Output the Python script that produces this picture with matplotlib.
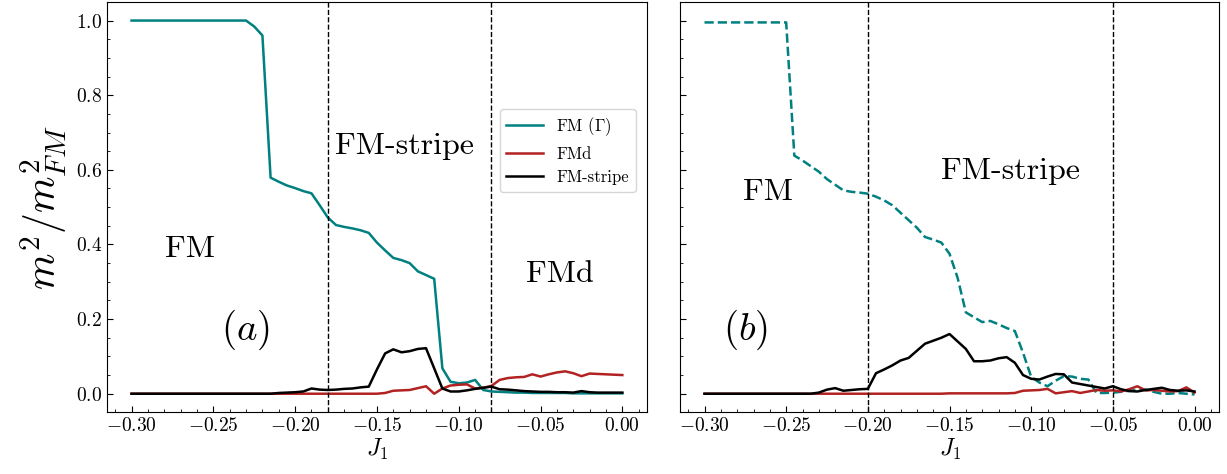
import matplotlib.pyplot as plt
import numpy as np

plt.rcParams["font.family"] = "serif"
plt.rcParams["font.serif"] = ["cmr10"]
plt.rcParams["mathtext.fontset"] = "cm"
plt.rcParams["axes.formatter.use_mathtext"] = True

# J1 grid (step 0.005)
J1 = np.round(np.arange(-0.30, 0.0001, 0.005), 3)

# Panel (a)
fm_a = [1.0] * 15 + [
    0.984, 0.96, 0.579, 0.568, 0.558, 0.551, 0.543, 0.537, 0.505, 0.472,
    0.452, 0.447, 0.443, 0.438, 0.431, 0.405, 0.384, 0.364, 0.358, 0.350,
    0.328, 0.318, 0.308, 0.068, 0.032, 0.028, 0.030, 0.037, 0.010, 0.006,
    0.005, 0.004, 0.003, 0.003, 0.002, 0.002, 0.002, 0.002, 0.002, 0.001,
    0.001, 0.001, 0.001, 0.001, 0.001, 0.001,
]
fmd_a = [0.0] * 31 + [
    0.002, 0.008, 0.009, 0.010, 0.015, 0.020, 0.000, 0.014, 0.022, 0.024,
    0.025, 0.014, 0.016, 0.021, 0.037, 0.042, 0.044, 0.045, 0.052, 0.046,
    0.052, 0.057, 0.060, 0.055, 0.047, 0.054, 0.053, 0.052, 0.051, 0.050,
]
stripe_a = [0.0] * 18 + [
    0.002, 0.003, 0.004, 0.006, 0.014, 0.011, 0.010, 0.011, 0.013, 0.014,
    0.017, 0.019, 0.065, 0.108, 0.119, 0.111, 0.114, 0.120, 0.122, 0.068,
    0.014, 0.006, 0.006, 0.009, 0.013, 0.016, 0.019, 0.012, 0.011, 0.009,
    0.007, 0.006, 0.005, 0.005, 0.004, 0.004, 0.003, 0.007, 0.004, 0.003,
    0.003, 0.003, 0.003,
]

# Panel (b)
fm_b = [0.995] * 11 + [
    0.638, 0.625, 0.610, 0.595, 0.575, 0.560, 0.545, 0.541, 0.539, 0.536,
    0.528, 0.518, 0.505, 0.485, 0.465, 0.445, 0.420, 0.413, 0.405, 0.375,
    0.310, 0.218, 0.205, 0.192, 0.195, 0.186, 0.176, 0.168, 0.110, 0.045,
    0.030, 0.020, 0.035, 0.047, 0.046, 0.040, 0.038, 0.002, 0.002, 0.003,
    0.005, 0.008, 0.010, 0.011, 0.005, 0.000, 0.000, 0.002, 0.000, -0.002,
]
fmd_b = [0.0] * 30 + [
    0.001, 0.001, 0.001, 0.001, 0.001, 0.001, 0.001, 0.001, 0.002, 0.008,
    0.009, 0.010, 0.013, 0.001, 0.004, 0.007, 0.002, 0.006, 0.010, 0.008,
    0.009, 0.006, 0.012, 0.020, 0.009, 0.010, 0.008, 0.006, 0.007, 0.017,
    0.003,
]
stripe_b = [0.0] * 14 + [
    0.003, 0.011, 0.015, 0.008, 0.010, 0.012, 0.013, 0.055, 0.065, 0.076,
    0.089, 0.096, 0.115, 0.134, 0.142, 0.150, 0.160, 0.140, 0.120, 0.087,
    0.087, 0.089, 0.095, 0.098, 0.083, 0.050, 0.040, 0.038, 0.046, 0.053,
    0.052, 0.030, 0.026, 0.022, 0.018, 0.014, 0.020, 0.012, 0.007, 0.006,
    0.010, 0.013, 0.016, 0.010, 0.008, 0.009, 0.006,
]

teal = "#008080"
red = "#b22222"

fig = plt.figure(figsize=(12.27, 4.74), dpi=100)
ax1 = fig.add_axes([0.0872, 0.130, 0.440, 0.866])
ax2 = fig.add_axes([0.5542, 0.130, 0.4393, 0.866])

ax1.plot(J1, fm_a, color=teal, lw=1.8, label=r"FM $(\Gamma)$")
ax1.plot(J1, fmd_a, color=red, lw=1.8, label="FMd")
ax1.plot(J1, stripe_a, color="black", lw=1.8, label="FM-stripe")
ax1.axvline(-0.18, color="black", ls="--", lw=1.0)
ax1.axvline(-0.08, color="black", ls="--", lw=1.0)
ax1.text(-0.264, 0.387, "FM", fontsize=23, ha="center", va="center")
ax1.text(-0.133, 0.664, "FM-stripe", fontsize=23, ha="center", va="center")
ax1.text(-0.038, 0.32, "FMd", fontsize=23, ha="center", va="center")
ax1.text(-0.2305, 0.172, r"$(a)$", fontsize=28, ha="center", va="center")
ax1.legend(loc="upper right", bbox_to_anchor=(0.979, 0.74), borderaxespad=0,
           fontsize=12, handlelength=2.2)
ax1.set_ylabel(r"$m^2/m^2_{FM}$", fontsize=30, labelpad=4)

ax2.plot(J1, fm_b, color=teal, lw=1.8, ls="--")
ax2.plot(J1, fmd_b, color=red, lw=1.8)
ax2.plot(J1, stripe_b, color="black", lw=1.8)
ax2.axvline(-0.20, color="black", ls="--", lw=1.0)
ax2.axvline(-0.05, color="black", ls="--", lw=1.0)
ax2.text(-0.261, 0.54, "FM", fontsize=23, ha="center", va="center")
ax2.text(-0.113, 0.597, "FM-stripe", fontsize=23, ha="center", va="center")
ax2.text(-0.275, 0.172, r"$(b)$", fontsize=28, ha="center", va="center")

for ax in (ax1, ax2):
    ax.set_xlim(-0.315, 0.015)
    ax.set_ylim(-0.05, 1.05)
    ax.set_xticks([-0.30, -0.25, -0.20, -0.15, -0.10, -0.05, 0.00])
    ax.set_yticks([0.0, 0.2, 0.4, 0.6, 0.8, 1.0])
    ax.minorticks_on()
    ax.tick_params(which="both", direction="in", labelsize=14)
    ax.tick_params(which="major", length=4)
    ax.tick_params(which="minor", length=2.5)
    ax.set_xlabel(r"$J_1$", fontsize=17, labelpad=1)
ax2.tick_params(labelleft=False)

plt.savefig("out.png", dpi=100)
